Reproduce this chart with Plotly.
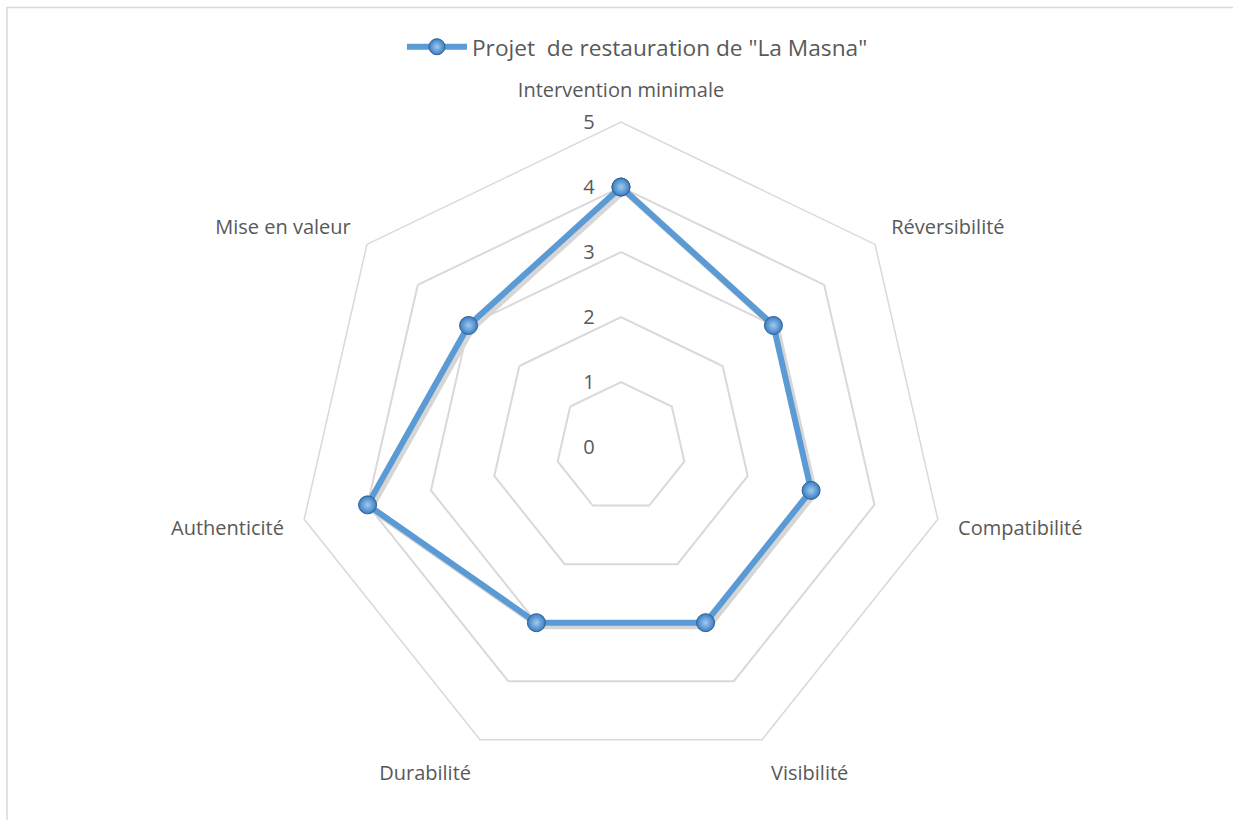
import plotly.graph_objects as go

# criteres evalues et notes du projet
categories = ["Intervention minimale", "Réversibilité", "Compatibilité", "Visibilité",
              "Durabilité", "Authenticité", "Mise en valeur"]
values = [4, 3, 3, 3, 3, 4, 3]
series_name = 'Projet\u00a0\u00a0de restauration de "La Masna"'
radial_ticks = [0, 1, 2, 3, 4, 5]

grey_txt = "#595959"
grid_col = "#d9d9d9"
blue = "#5B9BD5"

dom_x = [0.2401, 0.7672]
dom_y = [0.0585, 0.8512]
sx, sy = 3 / 1233, 3 / 820  # petit decalage pour l'ombre

r_closed = values + values[:1]
t_closed = categories + categories[:1]

# libelles decales vers la gauche par un texte invisible
pad = "<span style='color:rgba(0,0,0,0)'>00</span>"
tick_text = [f"{v}{pad}" for v in radial_ticks]

fig = go.Figure()
# ombre portee de la serie
fig.add_trace(go.Scatterpolar(
    r=r_closed, theta=t_closed, subplot="polar",
    mode="lines", line=dict(color="rgba(0,0,0,0.16)", width=7),
    showlegend=False, hoverinfo="skip",
))
fig.add_trace(go.Scatterpolar(
    r=r_closed, theta=t_closed, subplot="polar2",
    name=series_name,
    mode="lines+markers",
    line=dict(color=blue, width=6),
    marker=dict(size=18, color="#3A7DC2",
                gradient=dict(type="radial", color="#9ECBF2"),
                line=dict(color="#2F5F93", width=1)),
    showlegend=True,
))

fig.update_layout(
    width=1233, height=820,
    margin=dict(l=0, r=0, t=0, b=0),
    paper_bgcolor="white",
    font=dict(family="Open Sans", size=20, color=grey_txt),
    showlegend=True,
    legend=dict(orientation="h", x=0.517, xanchor="center", y=1 - 47 / 820, yanchor="middle",
                itemwidth=60,
                font=dict(size=22.7, color=grey_txt), bgcolor="rgba(0,0,0,0)"),
    polar=dict(
        domain=dict(x=[dom_x[0] + sx, dom_x[1] + sx], y=[dom_y[0] - sy, dom_y[1] - sy]),
        bgcolor="rgba(0,0,0,0)",
        gridshape="linear",
        radialaxis=dict(range=[0, 5], visible=False),
        angularaxis=dict(rotation=90, direction="clockwise", visible=False),
    ),
    polar2=dict(
        domain=dict(x=dom_x, y=dom_y),
        bgcolor="rgba(0,0,0,0)",
        gridshape="linear",
        radialaxis=dict(range=[0, 5], tickvals=radial_ticks, ticktext=tick_text,
                        angle=90, tickangle=90,
                        side="counterclockwise", showline=False,
                        gridcolor=grid_col, gridwidth=1.5, ticks="",
                        tickfont=dict(size=20, color=grey_txt)),
        angularaxis=dict(rotation=90, direction="clockwise", showgrid=False,
                         showline=True, linecolor=grid_col, linewidth=1.5,
                         ticks="outside", ticklen=16, tickcolor="rgba(0,0,0,0)",
                         tickfont=dict(size=20, color=grey_txt)),
    ),
    shapes=[dict(type="rect", xref="paper", yref="paper",
                 x0=7 / 1233, x1=1.01, y0=-0.01, y1=1 - 7.5 / 820,
                 line=dict(color=grid_col, width=1.5))],
)

fig.write_html("out.html", config={"displayModeBar": False},
               post_script="document.body.style.margin='0px';")
